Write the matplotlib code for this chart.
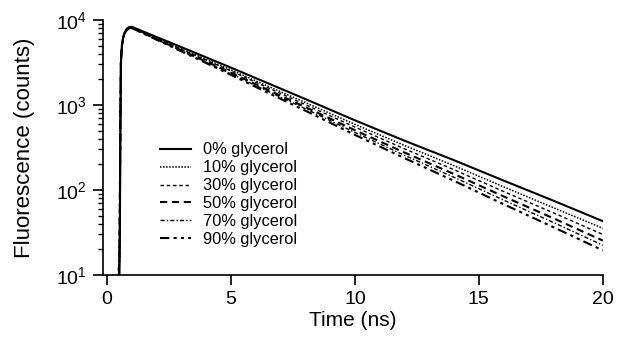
import matplotlib
matplotlib.use("Agg")
import matplotlib.pyplot as plt
from matplotlib.ticker import LogLocator, FixedLocator, NullFormatter

plt.rcParams['font.family'] = ['Liberation Sans', 'DejaVu Sans']
plt.rcParams['mathtext.default'] = 'regular'

# time axis (ns)
time_ns = [0.45, 0.5, 0.52, 0.54, 0.56, 0.6, 0.65, 0.7, 0.8, 0.9, 1, 2, 3, 4, 5,
           6, 8, 10, 12, 14, 16, 18, 20]

labels = ["0% glycerol", "10% glycerol", "30% glycerol",
          "50% glycerol", "70% glycerol", "90% glycerol"]

g0 = [5, 9, 40, 400, 3000, 5000, 6200, 7000, 7900, 8250, 8300, 6300, 4790, 3630,
      2750, 2070, 1175, 660, 380, 224, 129, 75, 43]
g10 = [6, 12, 60, 600, 3200, 5000, 6100, 6900, 7700, 8050, 8130, 6110, 4590, 3440,
       2590, 1920, 1070, 592, 334, 193, 109, 62, 35.5]
g30 = [7, 14, 70, 650, 3200, 5000, 6100, 6900, 7700, 8050, 8130, 6050, 4510, 3370,
       2510, 1850, 1010, 550, 305, 173, 96, 54, 30]
g50 = [8, 16, 80, 700, 3300, 5000, 6100, 6850, 7650, 8000, 8040, 5940, 4390, 3240,
       2400, 1750, 946, 505, 276, 154, 84, 46.6, 25.4]
g70 = [8, 16, 80, 700, 3300, 5000, 6100, 6850, 7650, 8000, 8040, 5900, 4340, 3180,
       2330, 1690, 904, 475, 256, 141, 76, 41.6, 22.4]
g90 = [8, 16, 80, 700, 3300, 5000, 6100, 6850, 7650, 8000, 8040, 5860, 4270, 3110,
       2260, 1630, 857, 445, 237, 128, 68, 36.6, 19.5]

series = [g0, g10, g30, g50, g70, g90]
styles = [
    dict(linestyle='-', linewidth=1.5),
    dict(linestyle=(0, (1, 1)), linewidth=1.1),
    dict(linestyle=(0, (2.5, 2)), linewidth=1.0),
    dict(linestyle=(0, (3.5, 2.2)), linewidth=1.5),
    dict(linestyle=(0, (3, 1.5, 1, 1.5)), linewidth=1.0),
    dict(linestyle=(0, (4.5, 2, 1.5, 2, 1.5, 2)), linewidth=1.5),
]

fig = plt.figure(figsize=(6.17, 3.41), dpi=100)
ax = fig.add_axes([0.167, 0.1935, 0.810, 0.748])

for vals, lab, st in zip(series, labels, styles):
    ax.plot(time_ns, vals, color='black', label=lab, **st)

ax.set_yscale('log')
ax.set_ylim(10, 1e4)
ax.set_xlim(-0.16, 20)
ax.xaxis.set_major_locator(FixedLocator([0, 5, 10, 15, 20]))
ax.yaxis.set_major_locator(LogLocator(base=10, numticks=10))
ax.yaxis.set_minor_locator(LogLocator(base=10, subs=range(2, 10), numticks=20))
ax.yaxis.set_minor_formatter(NullFormatter())

for s in ['top', 'right']:
    ax.spines[s].set_visible(False)
for s in ['left', 'bottom']:
    ax.spines[s].set_linewidth(1.2)

ax.tick_params(axis='both', which='major', direction='out', length=7.5, width=1.2,
               labelsize=14, pad=4)
ax.tick_params(axis='y', which='minor', direction='out', length=3.5, width=1.0)

ax.set_xlabel("Time (ns)", fontsize=15, labelpad=2)
ax.set_ylabel("Fluorescence (counts)", fontsize=16, labelpad=15)

leg = ax.legend(loc='upper left', bbox_to_anchor=(0.113, 0.52), frameon=False,
                fontsize=11.8, handlelength=1.9, handletextpad=0.75,
                labelspacing=0.18, borderpad=0, borderaxespad=0)

fig.savefig("out.png", dpi=100)
